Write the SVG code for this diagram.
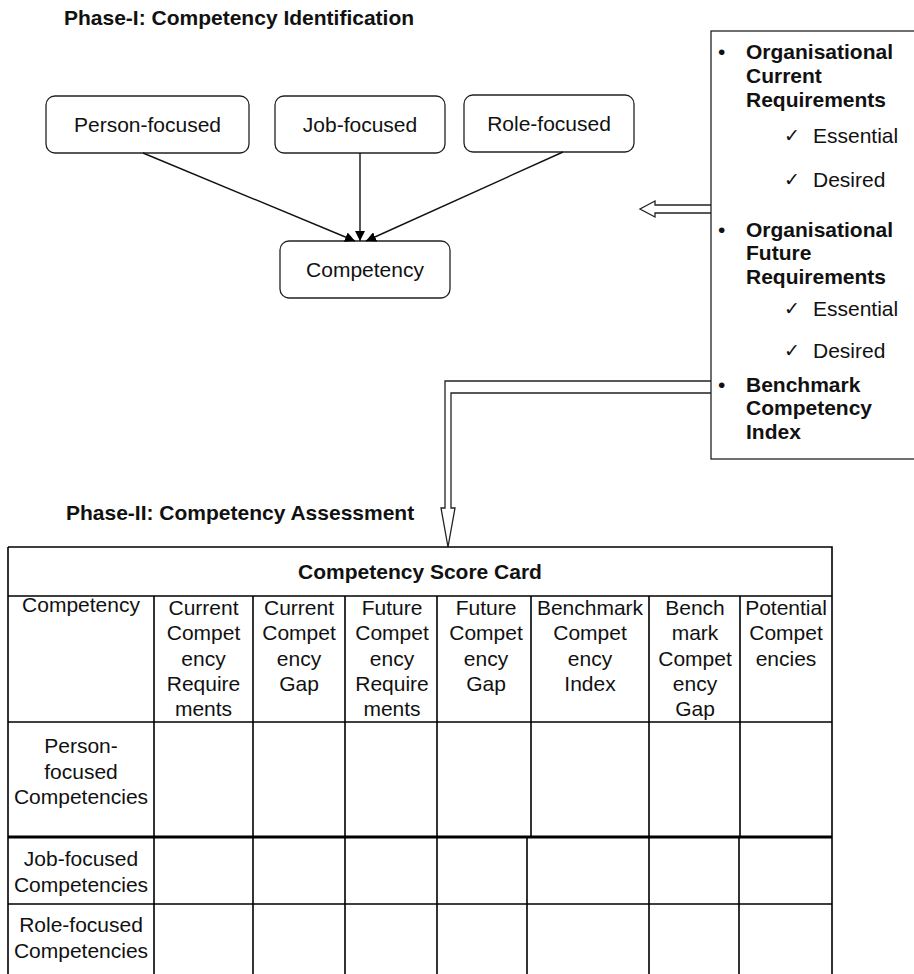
<svg xmlns="http://www.w3.org/2000/svg" width="914" height="974" viewBox="0 0 914 974">
<defs>
<style>
text{font-family:"Liberation Sans",Arial,sans-serif;font-size:21px;fill:#111}
.b{font-weight:bold}
.c{text-anchor:middle}
.box{fill:#fff;stroke:#222;stroke-width:1.3}
.ln{stroke:#111;stroke-width:1.4;fill:none}
.tb{stroke:#000;stroke-width:1.6;fill:none}
.ck{font-family:"DejaVu Sans",sans-serif;font-size:19px}
</style>
<marker id="ah" viewBox="0 0 10 10" refX="10" refY="5" markerWidth="10" markerHeight="10" markerUnits="userSpaceOnUse" orient="auto">
<path d="M0,0 L10,5 L0,10 z" fill="#000"/>
</marker>
</defs>
<rect width="914" height="974" fill="#fff"/>

<text id="title1" class="b" x="64" y="25">Phase-I: Competency Identification</text>

<g id="person">
<rect class="box" x="46" y="96" width="203" height="57" rx="9"/>
<text class="c" x="147.5" y="132">Person-focused</text>
</g>
<g id="job">
<rect class="box" x="275" y="96" width="170" height="57" rx="9"/>
<text class="c" x="360" y="132">Job-focused</text>
</g>
<g id="role">
<rect class="box" x="464" y="95" width="170" height="57" rx="9"/>
<text class="c" x="549" y="131">Role-focused</text>
</g>
<g id="competency">
<rect class="box" x="280" y="241" width="170" height="57" rx="9"/>
<text class="c" x="365" y="277">Competency</text>
</g>

<g id="connectors">
<line class="ln" x1="143" y1="153" x2="355" y2="241" marker-end="url(#ah)"/>
<line class="ln" x1="360" y1="153" x2="360" y2="241" marker-end="url(#ah)"/>
<line class="ln" x1="563" y1="152" x2="366" y2="241" marker-end="url(#ah)"/>
<path class="box" d="M711,205 L655,205 L655,201 L640,209 L655,217 L655,213 L711,213"/>
<path class="box" d="M711,381 L445,381 L445,508 L441,508 L448,547 L455,508 L451,508 L451,393 L711,393"/>
</g>

<g id="requirements">
<rect class="box" x="711" y="31" width="215" height="428"/>
<text x="718" y="59">•</text>
<text class="b" x="746" y="59">Organisational</text>
<text class="b" x="746" y="83">Current</text>
<text class="b" x="746" y="107">Requirements</text>
<text class="ck" x="784" y="142">✓</text>
<text x="813" y="143">Essential</text>
<text class="ck" x="784" y="186">✓</text>
<text x="813" y="187">Desired</text>
<text x="718" y="237">•</text>
<text class="b" x="746" y="237">Organisational</text>
<text class="b" x="746" y="260">Future</text>
<text class="b" x="746" y="284">Requirements</text>
<text class="ck" x="784" y="315">✓</text>
<text x="813" y="316">Essential</text>
<text class="ck" x="784" y="357">✓</text>
<text x="813" y="358">Desired</text>
<text x="718" y="392">•</text>
<text class="b" x="746" y="392">Benchmark</text>
<text class="b" x="746" y="415">Competency</text>
<text class="b" x="746" y="439">Index</text>
</g>

<text id="title2" class="b" x="66" y="520">Phase-II: Competency Assessment</text>

<g id="scorecard">
<path class="tb" d="M8,547 H832 V836 M8,547 V974 M8,596 H832 M8,722 H832"/>
<path class="tb" d="M154,596 V836 M253,596 V836 M345,596 V836 M437,596 V836 M531,596 V836 M649,596 V836 M740,596 V836"/>
<path stroke="#000" stroke-width="3" d="M8,837 H832"/>
<path class="tb" d="M154,838 V974 M253,838 V974 M345,838 V974 M437,838 V974 M527,838 V974 M649,838 V974 M739,838 V974 M832,836 V974 M8,904 H832"/>
<text class="b c" x="420" y="579">Competency Score Card</text>
<text class="c" x="81" y="612">Competency</text>
<text class="c" x="203.5" y="615">Current<tspan x="203.5" dy="25.3">Compet</tspan><tspan x="203.5" dy="25.3">ency</tspan><tspan x="203.5" dy="25.3">Require</tspan><tspan x="203.5" dy="25.3">ments</tspan></text>
<text class="c" x="299" y="615">Current<tspan x="299" dy="25.3">Compet</tspan><tspan x="299" dy="25.3">ency</tspan><tspan x="299" dy="25.3">Gap</tspan></text>
<text class="c" x="392" y="615">Future<tspan x="392" dy="25.3">Compet</tspan><tspan x="392" dy="25.3">ency</tspan><tspan x="392" dy="25.3">Require</tspan><tspan x="392" dy="25.3">ments</tspan></text>
<text class="c" x="486" y="615">Future<tspan x="486" dy="25.3">Compet</tspan><tspan x="486" dy="25.3">ency</tspan><tspan x="486" dy="25.3">Gap</tspan></text>
<text class="c" x="590" y="615">Benchmark<tspan x="590" dy="25.3">Compet</tspan><tspan x="590" dy="25.3">ency</tspan><tspan x="590" dy="25.3">Index</tspan></text>
<text class="c" x="695" y="615">Bench<tspan x="695" dy="25.3">mark</tspan><tspan x="695" dy="25.3">Compet</tspan><tspan x="695" dy="25.3">ency</tspan><tspan x="695" dy="25.3">Gap</tspan></text>
<text class="c" x="786" y="615">Potential<tspan x="786" dy="25.3">Compet</tspan><tspan x="786" dy="25.3">encies</tspan></text>
<text class="c" x="81" y="753">Person-<tspan x="81" dy="25.5">focused</tspan><tspan x="81" dy="25.5">Competencies</tspan></text>
<text class="c" x="81" y="866">Job-focused<tspan x="81" dy="26">Competencies</tspan></text>
<text class="c" x="81" y="932">Role-focused<tspan x="81" dy="26">Competencies</tspan></text>
</g>
</svg>
